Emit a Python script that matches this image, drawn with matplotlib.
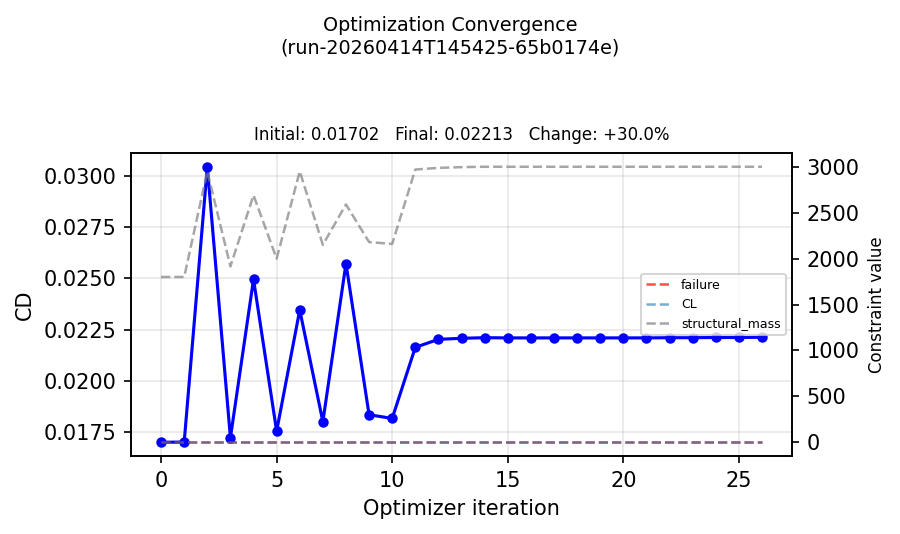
import matplotlib
matplotlib.use("Agg")
import matplotlib.pyplot as plt
import numpy as np

iterations = list(range(27))
cd_values = [0.01702, 0.01703, 0.03043, 0.01724, 0.02495, 0.01756, 0.02346,
             0.01802, 0.02572, 0.01836, 0.01818, 0.02164, 0.02203, 0.02208,
             0.02211, 0.02210, 0.02210, 0.02210, 0.02210, 0.02210, 0.02210,
             0.02210, 0.02211, 0.02211, 0.02212, 0.02212, 0.02213]
failure = [0.0] * 27
cl = [0.0] * 27
structural_mass = [1800, 1800, 2950, 1915, 2690, 2000, 2950, 2150, 2590, 2180,
                   2160, 2970, 2988, 2996, 3000, 3000, 3000, 3000, 3000, 3000,
                   3000, 3000, 3000, 3000, 3000, 3000, 3000]
run_id = "run-20260414T145425-65b0174e"

fig, ax = plt.subplots(figsize=(6.0, 3.56), dpi=150)
fig.subplots_adjust(left=0.1456, right=0.88, top=0.7135, bottom=0.146)

ax.plot(iterations, cd_values, color="blue", marker="o", markersize=4,
        linewidth=1.5, zorder=3)
ax.set_xlabel("Optimizer iteration", fontsize=10)
ax.set_ylabel("CD", fontsize=10)
ax.grid(True, alpha=0.3)

ax2 = ax.twinx()
ax2.plot(iterations, failure, linestyle="--", color="red", alpha=0.7,
         linewidth=1.2, label="failure")
ax2.plot(iterations, cl, linestyle="--", color="tab:blue", alpha=0.6,
         linewidth=1.2, label="CL")
ax2.plot(iterations, structural_mass, linestyle="--", color="gray", alpha=0.7,
         linewidth=1.2, label="structural_mass")
ax2.set_ylabel("Constraint value", fontsize=8)
ax2.legend(loc="center right", fontsize=6)

init = cd_values[0]
final = cd_values[-1]
change = (final - init) / init * 100
ax.set_title(f"Initial: {init:.5f}   Final: {final:.5f}   Change: {change:+.1f}%",
             fontsize=8)
fig.suptitle(f"Optimization Convergence\n({run_id})", fontsize=9.2, y=0.97)

fig.savefig("out.png", dpi=150)
